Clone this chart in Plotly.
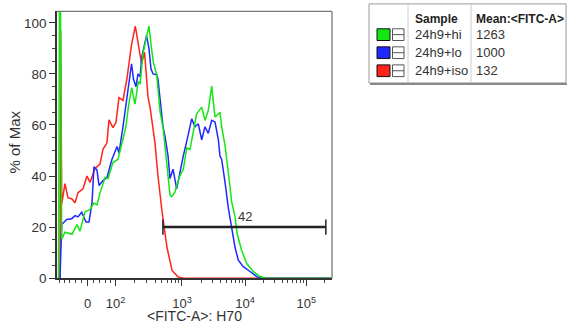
import numpy as np
import plotly.graph_objects as go

# ---------------- data (x in display channels 0..256, y in % of max) ----------------
red_ch = [2.8, 3.4, 4.4, 7.4, 10.2, 14.0, 16.8, 19.5, 24.2, 27.9, 30.7, 35.4, 40.0, 42.8, 46.5,
          48.4, 52.1, 54.9, 57.7, 61.4, 65.2, 67.0, 69.2, 72.9, 75.4, 77.3, 78.7, 81.5, 83.1,
          84.7, 86.6, 88.4, 91.2, 94.0, 97.8, 102.4, 107.1, 112.6, 118.0, 255.5]
red_pct = [0, 97, 29, 37, 31.5, 31, 29.5, 33.5, 35, 40, 37.5, 43, 44.7, 50.5, 53,
           62, 59, 61, 70.7, 69.6, 78.4, 85, 91, 98.7, 91.5, 86, 84, 88.5, 80,
           71, 67, 62, 53, 40, 26, 12, 3, 0.5, 0, 0]

blue_ch = [2.8, 4.4, 9.0, 13.7, 16.8, 19.5, 23.0, 27.0, 29.8, 32.6, 34.4, 37.2, 39.1, 42.8,
           46.5, 51.2, 55.9, 57.7, 61.4, 65.2, 69.4, 71.2, 73.5, 75.4, 77.3, 79.1, 81.0,
           83.3, 85.6, 87.5, 89.4, 92.8, 94.0, 95.8, 98.7, 100.6, 103.4, 105.2, 108.0,
           111.4, 116.1, 117.6, 120.7, 125.4, 128.5, 131.5, 134.7, 137.8, 140.8, 144.0,
           147.1, 150.2, 151.7, 153.3, 156.4, 159.5, 162.6, 165.7, 168.8, 173.4, 179.7,
           185.9, 190.8, 255.5]
blue_pct = [0, 21, 23, 23.3, 24.5, 24, 25.8, 22, 22, 29.6, 43.6, 42.4, 36.3, 38.2,
            39.4, 46.6, 51.6, 49, 59.3, 72, 84, 78, 75, 80, 79, 87, 91,
            95, 90, 82, 80, 79.7, 78, 70.7, 59.3, 55.4, 47.8, 39, 42.7,
            35, 45.2, 48, 53.5, 62.4, 59.3, 60.5, 54.2, 59.3, 56.7, 61.8,
            61.2, 54.2, 47.8, 46.5, 37.6, 27.4, 19.8, 12.1, 7, 4.5, 2.6,
            0.6, 0, 0]

green_ch = [1.4, 2.3, 3.1, 4.4, 7.4, 14.0, 18.6, 21.4, 26.1, 30.7, 34.4, 37.2, 40.0, 44.7,
            47.5, 52.1, 56.8, 60.5, 64.2, 66.4, 69.5, 72.6, 75.7, 77.3, 80.1, 83.1, 85.6,
            88.0, 89.6, 92.8, 95.8, 99.0, 102.1, 105.2, 106.8, 109.9, 111.4, 114.5, 117.6,
            120.7, 123.8, 126.9, 130.0, 134.7, 137.8, 140.8, 144.0, 147.1, 151.7, 153.3,
            156.4, 159.5, 162.6, 165.7, 167.8, 171.9, 176.6, 182.7, 189.0, 194.6, 255.5]
green_pct = [0, 115, 115, 15.3, 18, 17.2, 21, 18.4, 26, 26.8, 29.4, 28.7, 33.3, 39.4,
             39, 45.3, 46.6, 52.8, 59.3, 67, 74.6, 68.2, 77.1, 76, 88, 94, 98.8,
             90, 84.8, 79.7, 65.7, 58, 44, 32.5, 31.9, 33.8, 36.3, 40.2, 42.7,
             51, 50.4, 57, 64.4, 67, 61.8, 65.7, 75.2, 63.1, 65, 59.3,
             52, 41.4, 29.9, 24.2, 17.2, 10.8, 5.7, 2.6, 0.6, 0, 0]

samples = ["24h9+hi", "24h9+lo", "24h9+iso"]
means = ["1263", "1000", "132"]

x_major_vals = [0, 1e2, 1e3, 1e4, 1e5]
x_major_text = ["0", "10<sup>2</sup>", "10<sup>3</sup>", "10<sup>4</sup>", "10<sup>5</sup>"]
x_minor_vals = ([-100, -80, -60, -40, -20, 20, 40, 60, 80]
                + [k * 100 for k in range(2, 10)] + [k * 1000 for k in range(2, 10)]
                + [k * 10000 for k in range(2, 10)] + [200000])
y_major_vals = [0, 20, 40, 60, 80, 100]

gate_lo, gate_hi, gate_pct, gate_label = 520, 208000, 20, "42"

# ---------------- logicle display scale ----------------
T, M, W = 262144.0, 4.5, 0.5
NCH = 256.0


def _solve_p(w):
    lo, hi = 1.0000001, 100.0
    for _ in range(200):
        mid = 0.5 * (lo + hi)
        if 2 * mid * np.log10(mid) / (mid + 1) > w:
            hi = mid
        else:
            lo = mid
    return 0.5 * (lo + hi)


P = _solve_p(W)


def _S(x):
    x = np.asarray(x, dtype=float)
    def s(u):
        return T * 10 ** (-(M - W)) * (10 ** (u - W) - P * P * 10 ** (-(u - W) / P) + P * P - 1)
    return np.where(x >= W, s(x), -s(2 * W - x))


_grid = np.linspace(0, M, 90001)
_vals = _S(_grid)


def to_ch(v):
    return np.interp(np.asarray(v, dtype=float), _vals, _grid) * NCH / M


# ---------------- figure ----------------
FW, FH = 571, 332
def PX(x):
    return x / FW
def PY(y):
    return 1 - y / FH

FONT = "Liberation Sans, Arial, sans-serif"
TXT = "#333"
GREEN = "rgb(20,230,20)"
BLUE = "rgb(30,40,255)"
RED = "rgb(255,35,25)"

fig = go.Figure()
for xs, ys, col in [(red_ch, red_pct, RED), (blue_ch, blue_pct, BLUE), (green_ch, green_pct, GREEN)]:
    fig.add_trace(go.Scatter(x=xs, y=ys, mode="lines", line=dict(color=col, width=1.5),
                             hoverinfo="skip", showlegend=False))

# range gate
gx = to_ch([gate_lo, gate_hi])
fig.add_trace(go.Scatter(x=gx, y=[gate_pct, gate_pct], mode="lines+markers",
                         line=dict(color="#222", width=2.5),
                         marker=dict(symbol="line-ns", size=11, line=dict(width=1.5, color="#222")),
                         showlegend=False, hoverinfo="skip", cliponaxis=False))
fig.add_annotation(x=float(to_ch(1e4)), y=gate_pct, xref="x", yref="y", text=gate_label,
                   showarrow=False, yshift=11, xanchor="center", yanchor="middle",
                   font=dict(family=FONT, size=13, color=TXT))

fig.update_layout(
    width=FW, height=FH, margin=dict(l=0, r=0, t=0, b=0),
    paper_bgcolor="white", plot_bgcolor="white",
    xaxis=dict(domain=[PX(57), PX(332)], range=[0, NCH], showgrid=False, zeroline=False,
               showline=True, linecolor="#333", linewidth=1.5,
               ticks="outside", ticklen=6, tickwidth=1.3, tickcolor="#333",
               tickmode="array", tickvals=list(to_ch(x_major_vals)), ticktext=x_major_text,
               minor=dict(tickmode="array", tickvals=list(to_ch(x_minor_vals)), ticks="outside",
                          ticklen=3, tickwidth=1, tickcolor="#444"),
               tickfont=dict(family=FONT, size=13, color=TXT), ticklabelstandoff=7),
    yaxis=dict(domain=[PY(285), PY(11.7)], range=[0, 104.5], showgrid=False, zeroline=False,
               showline=True, linecolor="#333", linewidth=1.5,
               ticks="outside", ticklen=6, tickwidth=1.3, tickcolor="#333",
               tickmode="array", tickvals=y_major_vals,
               minor=dict(dtick=5, ticks="outside", ticklen=3, tickwidth=1, tickcolor="#444"),
               tickfont=dict(family=FONT, size=13.5, color=TXT)),
)

# frame top/right
fig.add_shape(type="line", xref="paper", yref="paper", x0=PX(57), x1=PX(332), y0=PY(11.7), y1=PY(11.7),
              line=dict(color="#777", width=1.3))
fig.add_shape(type="line", xref="paper", yref="paper", x0=PX(332), x1=PX(332), y0=PY(285), y1=PY(11.7),
              line=dict(color="#777", width=1.3))

# axis titles
fig.add_annotation(x=PX(194), y=PY(323.5), xref="paper", yref="paper", text="&lt;FITC-A&gt;: H70",
                   xanchor="center", yanchor="middle", showarrow=False,
                   font=dict(family=FONT, size=14, color=TXT))
fig.add_annotation(x=PX(14), y=PY(146), xref="paper", yref="paper", text="% of Max", textangle=-90,
                   xanchor="center", yanchor="middle", showarrow=False,
                   font=dict(family=FONT, size=15, color=TXT))

# legend table
fig.add_shape(type="rect", xref="paper", yref="paper", x0=PX(369), x1=PX(566), y0=PY(85), y1=PY(4),
              line=dict(color="#999", width=1), fillcolor="white")
fig.add_shape(type="line", xref="paper", yref="paper", x0=PX(370), x1=PX(567), y0=PY(86), y1=PY(86),
              line=dict(color="#888", width=2))
for vx in (408, 471):
    fig.add_shape(type="line", xref="paper", yref="paper", x0=PX(vx), x1=PX(vx), y0=PY(85), y1=PY(4),
                  line=dict(color="#ccc", width=1))
fig.add_annotation(x=PX(413), y=PY(19), xref="paper", yref="paper", text="<b>Sample</b>",
                   xanchor="left", yanchor="middle", showarrow=False,
                   font=dict(family=FONT, size=12, color="#222"))
fig.add_annotation(x=PX(474), y=PY(19), xref="paper", yref="paper", text="<b>Mean:&lt;FITC-A&gt;</b>",
                   xanchor="left", yanchor="middle", showarrow=False,
                   font=dict(family=FONT, size=12, color="#222"))
row_y = [35.5, 54, 72.5]
for ry, col, name, mean in zip(row_y, [GREEN, BLUE, RED], samples, means):
    fig.add_shape(type="rect", xref="paper", yref="paper", x0=PX(377), x1=PX(390),
                  y0=PY(ry + 6), y1=PY(ry - 6), line=dict(color="#111", width=1), fillcolor=col)
    fig.add_shape(type="rect", xref="paper", yref="paper", x0=PX(392.5), x1=PX(404),
                  y0=PY(ry + 6), y1=PY(ry - 6), line=dict(color="#555", width=1), fillcolor="white")
    fig.add_shape(type="line", xref="paper", yref="paper", x0=PX(392.5), x1=PX(404),
                  y0=PY(ry), y1=PY(ry), line=dict(color="#555", width=1))
    fig.add_annotation(x=PX(413), y=PY(ry), xref="paper", yref="paper", text=name,
                       xanchor="left", yanchor="middle", showarrow=False,
                       font=dict(family=FONT, size=13, color=TXT))
    fig.add_annotation(x=PX(474), y=PY(ry), xref="paper", yref="paper", text=mean,
                       xanchor="left", yanchor="middle", showarrow=False,
                       font=dict(family=FONT, size=13, color=TXT))

fig.write_html("out.html", config={"displayModeBar": False},
               post_script=("var h=document.documentElement, b=document.body;"
                            "h.style.margin='0';h.style.padding='0';h.style.overflow='hidden';"
                            "b.style.margin='0';b.style.padding='0';b.style.overflow='hidden';"))
